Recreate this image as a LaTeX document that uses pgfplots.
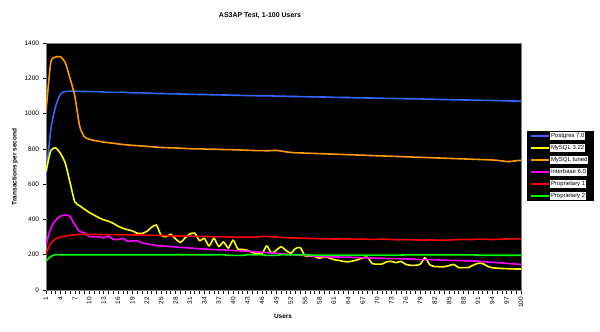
\documentclass[border=0pt]{standalone}
\usepackage{fontspec}
\setmainfont{Liberation Sans}
\usepackage{pgfplots}
\usepackage{pgfplotstable}
\pgfplotsset{compat=1.18}
\definecolor{cpg}{RGB}{51,102,255}
\definecolor{cmy}{RGB}{255,255,0}
\definecolor{cmyt}{RGB}{255,153,0}
\definecolor{cib}{RGB}{255,0,255}
\definecolor{cpa}{RGB}{255,0,0}
\definecolor{cpb}{RGB}{0,255,0}
\pgfplotstableread{
x pg my myt ib pa pb
1 640 670 1010 255 205 165
2 910 790 1290 350 265 190
3 1040 805 1320 395 290 200
4 1110 775 1322 418 300 200
5 1125 720 1290 425 305 200
6 1127 610 1200 418 310 200
7 1127 500 1100 370 313 200
8 1126 478 930 332 315 200
9 1125 458 868 325 315 200
10 1125 440 855 303 315 200
11 1124 425 848 302 315 200
12 1124 410 843 302 315 200
13 1122 398 838 295 314 200
14 1121 390 835 306 314 200
15 1120 378 832 288 314 200
16 1120 362 828 285 313 200
17 1121 350 825 293 313 200
18 1119 342 822 276 313 200
19 1118 335 820 278 312 200
20 1118 322 818 279 312 200
21 1117 320 816 268 311 200
22 1116 332 814 262 311 200
23 1115 355 812 257 310 200
24 1114 368 810 253 310 200
25 1114 310 808 250 309 200
26 1113 302 807 248 308 200
27 1112 316 806 246 307 200
28 1112 290 805 244 306 200
29 1111 270 804 242 306 200
30 1110 295 802 240 305 200
31 1109 318 801 238 305 200
32 1109 322 800 236 304 200
33 1108 280 800 234 304 200
34 1108 292 799 232 303 200
35 1107 250 798 230 303 200
36 1106 293 798 229 302 200
37 1106 247 797 228 302 200
38 1105 272 796 227 301 200
39 1105 238 796 225 301 196
40 1104 282 795 224 300 196
41 1104 232 794 223 300 196
42 1103 230 793 221 300 196
43 1102 225 792 220 299 200
44 1102 212 791 218 299 200
45 1101 207 790 216 300 200
46 1101 205 790 214 303 200
47 1100 249 789 212 304 196
48 1100 210 790 210 302 196
49 1099 225 791 208 300 196
50 1099 245 788 205 298 200
51 1098 225 783 203 297 200
52 1097 208 780 201 296 200
53 1097 235 778 199 295 200
54 1096 240 777 197 294 200
55 1096 193 776 195 293 200
56 1095 193 775 194 292 198
57 1095 190 774 192 292 198
58 1094 180 773 190 291 198
59 1094 189 772 189 290 198
60 1093 182 771 188 290 198
61 1092 172 770 187 289 198
62 1092 168 769 187 289 198
63 1091 162 768 186 290 198
64 1091 160 767 186 289 198
65 1090 165 766 185 288 198
66 1089 172 765 184 288 198
67 1089 182 764 183 289 198
68 1088 186 763 182 288 198
69 1088 150 762 181 287 198
70 1087 147 761 180 287 198
71 1087 147 760 180 289 198
72 1086 160 759 179 288 198
73 1086 162 758 178 286 198
74 1085 155 757 178 285 198
75 1085 162 756 177 285 198
76 1084 145 755 176 286 199
77 1084 140 754 175 285 199
78 1083 140 753 174 284 199
79 1083 146 752 173 283 199
80 1082 183 751 172 283 199
81 1081 143 750 172 284 199
82 1081 133 749 171 283 199
83 1080 132 748 170 282 199
84 1080 132 747 169 282 199
85 1079 138 746 168 283 199
86 1078 145 745 168 285 199
87 1078 127 744 167 286 199
88 1077 127 743 166 287 199
89 1077 127 742 166 286 199
90 1076 140 741 165 286 199
91 1076 151 740 163 288 197
92 1075 150 739 161 288 197
93 1075 135 738 159 287 197
94 1074 126 737 157 286 197
95 1073 124 735 155 287 197
96 1073 122 732 153 288 197
97 1072 121 728 151 289 197
98 1071 120 729 149 290 197
99 1071 119 733 147 290 197
100 1070 119 735 145 290 197
}\data
\tikzset{lgtext/.style={anchor=west, fill=white, text=black, inner sep=0.8bp,
  text height=4.6bp, text depth=1.4bp, font=\fontsize{6}{7}\selectfont}}
\begin{document}
\begin{tikzpicture}
\path[use as bounding box] (0,0) rectangle (600bp,332bp);
\begin{axis}[
  at={(46bp,42bp)}, anchor=south west, scale only axis,
  width=475bp, height=247bp,
  xmin=1, xmax=100, ymin=0, ymax=1400,
  xtick={1,4,...,100}, minor xtick={1,...,100},
  ytick={0,200,...,1400},
  xtick pos=bottom, ytick pos=left, tick align=outside,
  major tick length=3.5bp, minor tick length=3.5bp,
  tick style={black, line width=0.5pt},
  axis background/.style={fill=black},
  axis line style={gray},
  x tick label style={rotate=90, anchor=east, font=\fontsize{6.5}{7}\selectfont},
  y tick label style={font=\fontsize{6.5}{7}\selectfont},
  /pgf/number format/1000 sep={},
  /pgf/number format/assume math mode=true,
  every axis plot/.append style={line width=1.6pt, smooth, tension=0.4},
]
\addplot[color=cpg] table[x=x,y=pg]{\data};
\addplot[color=cmy] table[x=x,y=my]{\data};
\addplot[color=cmyt] table[x=x,y=myt]{\data};
\addplot[color=cib] table[x=x,y=ib]{\data};
\addplot[color=cpa] table[x=x,y=pa]{\data};
\addplot[color=cpb] table[x=x,y=pb]{\data};
\end{axis}
% legend
\fill[black] (527bp,131bp) rectangle (594bp,201bp);
\fill[cpg]  (531bp,195.1bp) rectangle (549bp,196.9bp);
\fill[cmy]  (531bp,183.1bp) rectangle (549bp,184.9bp);
\fill[cmyt] (531bp,171.1bp) rectangle (549bp,172.9bp);
\fill[cib]  (531bp,159.1bp) rectangle (549bp,160.9bp);
\fill[cpa]  (531bp,147.1bp) rectangle (549bp,148.9bp);
\fill[cpb]  (531bp,135.1bp) rectangle (549bp,136.9bp);
\node[lgtext] at (550bp,196bp) {Postgres 7.0};
\node[lgtext] at (550bp,184bp) {MySQL 3.22};
\node[lgtext] at (550bp,172bp) {MySQL tuned};
\node[lgtext] at (550bp,160bp) {Interbase 6.0};
\node[lgtext] at (550bp,148bp) {Proprietary 1};
\node[lgtext] at (550bp,136bp) {Proprietary 2};
\node[font=\bfseries\fontsize{7}{8}\selectfont] at (260bp,316bp) {AS3AP Test, 1-100 Users};
\node[font=\bfseries\fontsize{6.5}{7}\selectfont] at (283bp,16bp) {Users};
\node[font=\bfseries\fontsize{6.5}{7}\selectfont, rotate=90] at (15bp,165bp) {Transactions per second};
\end{tikzpicture}
\end{document}
